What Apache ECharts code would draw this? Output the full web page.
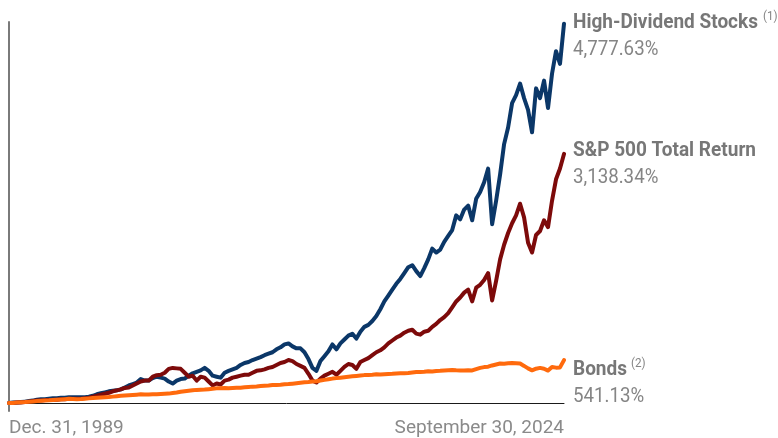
<!DOCTYPE html>
<html>
<head>
<meta charset="utf-8">
<script src="https://cdn.jsdelivr.net/npm/echarts@6/dist/echarts.min.js"></script>
<style>
  html, body { margin: 0; padding: 0; background: #fff; }
  #chart { width: 778px; height: 438px; }
</style>
</head>
<body>
<div id="chart"></div>
<script>
// Quarter-end dates, Dec 1989 through Sep 2024
const categories = [];
for (let y = 1989; y <= 2024; y++) {
  for (const m of [3, 6, 9, 12]) {
    if ((y === 1989 && m < 12) || (y === 2024 && m > 9)) continue;
    categories.push(y + '-' + String(m).padStart(2, '0'));
  }
}

const xTickLabels = ['Dec. 31, 1989', 'September 30, 2024'];

// Cumulative total return, % since Dec. 31, 1989
const highDividend = [
  0, 6, 6, 12, 18, 25, 31, 43, 49, 49,
  55, 62, 62, 68, 68, 74, 74, 74, 74, 74,
  80, 92, 111, 123, 135, 148, 154, 160, 172, 197,
  222, 240, 259, 302, 283, 283, 314, 332, 320, 308,
  271, 246, 283, 302, 308, 345, 375, 394, 412, 443,
  406, 345, 332, 320, 382, 406, 425, 443, 480, 505,
  517, 542, 560, 579, 603, 622, 640, 677, 702, 739,
  751, 714, 689, 689, 640, 554, 443, 406, 529, 591,
  652, 739, 677, 751, 800, 849, 874, 812, 899, 960,
  985, 1034, 1096, 1182, 1280, 1354, 1428, 1502, 1563, 1637,
  1711, 1736, 1662, 1600, 1699, 1810, 1945, 1896, 1933, 2031,
  2105, 2179, 2364, 2314, 2437, 2487, 2302, 2573, 2659, 2782,
  2954, 2253, 2548, 2881, 3262, 3471, 3779, 3878, 4025, 3841,
  3693, 3410, 3964, 3841, 4062, 3718, 4148, 4432, 4272, 4777.63
];

const sp500 = [
  0, 0, 6, 6, 12, 18, 25, 31, 31, 37,
  37, 43, 43, 49, 49, 55, 55, 55, 55, 62,
  68, 80, 92, 105, 117, 129, 148, 160, 172, 191,
  197, 222, 246, 271, 283, 283, 332, 351, 357, 382,
  431, 443, 437, 431, 382, 332, 345, 283, 332, 320,
  271, 222, 246, 234, 283, 295, 320, 332, 345, 357,
  357, 382, 406, 412, 425, 443, 455, 480, 505, 517,
  542, 529, 492, 468, 443, 369, 283, 259, 308, 345,
  369, 394, 357, 406, 455, 492, 480, 431, 517, 542,
  566, 603, 640, 665, 702, 751, 788, 825, 849, 886,
  911, 923, 874, 862, 899, 911, 960, 997, 1046, 1083,
  1133, 1206, 1280, 1329, 1391, 1428, 1280, 1453, 1490, 1551,
  1637, 1293, 1539, 1810, 1994, 2142, 2265, 2364, 2511, 2339,
  2019, 1896, 2117, 2167, 2302, 2216, 2548, 2819, 2954, 3138.34
];

const bonds = [
  0, 2, 6, 10, 12, 16, 20, 25, 28, 32,
  34, 38, 42, 46, 49, 53, 52, 49, 50, 54,
  59, 64, 68, 71, 74, 76, 81, 86, 91, 95,
  98, 102, 106, 111, 108, 107, 110, 112, 114, 117,
  119, 126, 133, 142, 148, 154, 160, 166, 169, 170,
  175, 181, 185, 186, 190, 187, 191, 194, 193, 198,
  202, 207, 209, 214, 219, 222, 227, 229, 231, 236,
  239, 244, 249, 255, 261, 265, 271, 275, 283, 292,
  300, 308, 314, 320, 326, 332, 337, 342, 347, 352,
  355, 357, 362, 359, 363, 367, 369, 373, 375, 377,
  378, 384, 390, 391, 394, 400, 399, 404, 406, 410,
  412, 415, 412, 411, 409, 414, 411, 428, 443, 453,
  458, 474, 486, 499, 496, 502, 505, 501, 497, 468,
  437, 412, 433, 443, 433, 409, 455, 446, 449, 541.13
];

const seriesNames = ['High-Dividend Stocks', 'S&P 500 Total Return', 'Bonds'];
const footnotes = ['(1)', '', '(2)'];
const colors = ['#0b3768', '#7d0a0a', '#ff6a0d'];
const seriesData = [highDividend, sp500, bonds];

const fmtPct = v => v.toLocaleString('en-US', { minimumFractionDigits: 2, maximumFractionDigits: 2 }) + '%';

const chart = echarts.init(document.getElementById('chart'), null, { renderer: 'canvas' });

const labelLeft = 573;
// vertical placement of each label block (title line centre)
const titleY = [23, 151, 370];
const supX = [763, 0, 631];

const graphics = [];
seriesNames.forEach((name, i) => {
  graphics.push({
    type: 'text', x: labelLeft, y: titleY[i], scaleX: 0.905, scaleY: 1,
    style: { text: name, x: 0, y: 0, fill: '#777', font: 'bold 21px Roboto', verticalAlign: 'middle' }
  });
  const last = seriesData[i][seriesData[i].length - 1];
  graphics.push({
    type: 'text', x: labelLeft, y: titleY[i] + 27, scaleX: 0.89, scaleY: 1,
    style: { text: fmtPct(last), x: 0, y: 0, fill: '#858585', font: '21px Roboto', verticalAlign: 'middle' }
  });
  if (footnotes[i]) {
    graphics.push({
      type: 'text', x: supX[i], y: titleY[i] - 6, scaleX: 0.9, scaleY: 1,
      style: { text: footnotes[i], x: 0, y: 0, fill: '#858585', font: '13px Roboto', verticalAlign: 'middle' }
    });
  }
});

chart.setOption({
  animation: false,
  backgroundColor: '#ffffff',
  grid: { left: 9, right: 214, top: 22, bottom: 18, containLabel: false },
  xAxis: {
    type: 'category',
    data: categories,
    boundaryGap: false,
    axisLine: { onZero: true, lineStyle: { color: '#1a1a1a', width: 1 } },
    axisTick: { show: false },
    splitLine: { show: false },
    axisLabel: {
      interval: (idx) => idx === 0 || idx === categories.length - 1,
      showMinLabel: true,
      showMaxLabel: true,
      alignMinLabel: 'left',
      alignMaxLabel: 'right',
      margin: 8,
      color: '#8a8a8a',
      fontFamily: 'Roboto',
      fontSize: 19,
      formatter: (val, idx) => idx === 0 ? xTickLabels[0] : (idx === categories.length - 1 ? xTickLabels[1] : '')
    }
  },
  yAxis: {
    type: 'value',
    min: -100,
    max: 4800,
    interval: 100,
    axisLine: { show: true, lineStyle: { color: '#7a7a7a', width: 2 } },
    axisTick: { show: false },
    axisLabel: { show: false },
    splitLine: { show: false }
  },
  series: seriesNames.map((name, i) => ({
    name,
    type: 'line',
    data: seriesData[i],
    showSymbol: false,
    symbol: 'none',
    smooth: false,
    lineStyle: { color: colors[i], width: 4, join: 'round', cap: 'round' },
    z: 2 + i
  })),
  graphic: graphics
});
</script>
</body>
</html>
